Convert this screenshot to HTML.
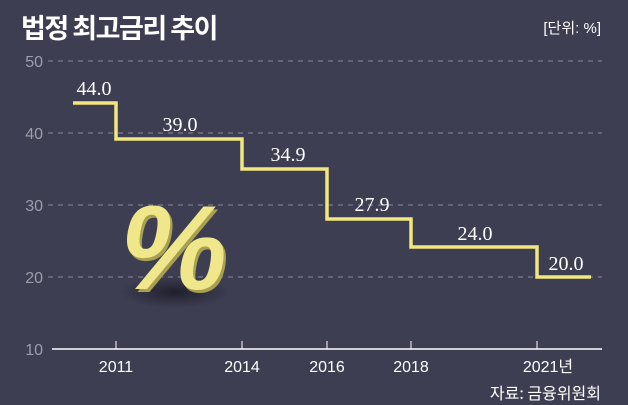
<!DOCTYPE html>
<html><head><meta charset="utf-8"><style>
body{margin:0;background:#3e3e53;}
</style></head><body>
<svg width="628" height="405" xmlns="http://www.w3.org/2000/svg" style="display:block">
<rect width="628" height="405" fill="#3e3e53"/>
<defs><radialGradient id="sh" cx="50%" cy="50%" r="50%"><stop offset="0" stop-color="#1c1c28" stop-opacity="0.9"/><stop offset="1" stop-color="#1c1c28" stop-opacity="0"/></radialGradient></defs>
<text x="21" y="38" font-family="'Noto Sans CJK KR',sans-serif" font-weight="bold" font-size="27" fill="#fff" letter-spacing="-1.5">법정 최고금리 추이</text>
<text x="601" y="33" text-anchor="end" font-family="'Liberation Sans','Noto Sans CJK KR',sans-serif" font-size="15" fill="#fff">[단위: %]</text>
<g stroke="#8a8a9c" stroke-width="1" stroke-dasharray="5,5">
<line x1="48" y1="61" x2="602" y2="61"/><line x1="48" y1="133" x2="602" y2="133"/><line x1="48" y1="205" x2="602" y2="205"/><line x1="48" y1="277" x2="602" y2="277"/>
</g>
<g font-family="'Liberation Sans',sans-serif" font-size="16" fill="#9d9dab" text-anchor="end">
<text x="43" y="67">50</text><text x="43" y="139">40</text><text x="43" y="211">30</text><text x="43" y="283">20</text><text x="43" y="355">10</text>
</g>
<line x1="52" y1="349" x2="602" y2="349" stroke="#fff" stroke-width="1.5"/>
<g stroke="#fff" stroke-width="1"><line x1="116" y1="341" x2="116" y2="349"/><line x1="242" y1="341" x2="242" y2="349"/><line x1="327" y1="341" x2="327" y2="349"/><line x1="411" y1="341" x2="411" y2="349"/><line x1="537" y1="341" x2="537" y2="349"/></g>
<g font-family="'Liberation Sans','Noto Sans CJK KR',sans-serif" font-size="16" fill="#fff" text-anchor="middle">
<text x="116" y="372">2011</text><text x="242" y="372">2014</text><text x="327" y="372">2016</text><text x="411" y="372">2018</text><text x="548" y="372">2021년</text>
</g>
<text x="601" y="399" text-anchor="end" font-family="'Noto Sans CJK KR',sans-serif" font-size="16" fill="#fff">자료: 금융위원회</text>
<ellipse cx="175" cy="292" rx="55" ry="16" fill="url(#sh)"/>
<g transform="translate(170,0) skewX(-10) translate(-170,0)">
<text x="222" y="292" text-anchor="middle" font-family="'Liberation Sans',sans-serif" font-weight="bold" font-size="120" fill="#a8a050">%</text>
<text x="219" y="289" text-anchor="middle" font-family="'Liberation Sans',sans-serif" font-weight="bold" font-size="120" fill="#f0e68a">%</text>
</g>
<polyline points="73,103 116,103 116,139 242,139 242,169 327,169 327,219 411,219 411,247 537,247 537,277 591,277" fill="none" stroke="#f1e67f" stroke-width="3.5"/>
<g font-family="'Liberation Serif',serif" font-size="20" fill="#fff" text-anchor="middle">
<text x="94" y="95">44.0</text><text x="180" y="131">39.0</text><text x="288" y="161">34.9</text><text x="372" y="211">27.9</text><text x="475" y="240">24.0</text><text x="566" y="270">20.0</text>
</g>
</svg>
</body></html>
